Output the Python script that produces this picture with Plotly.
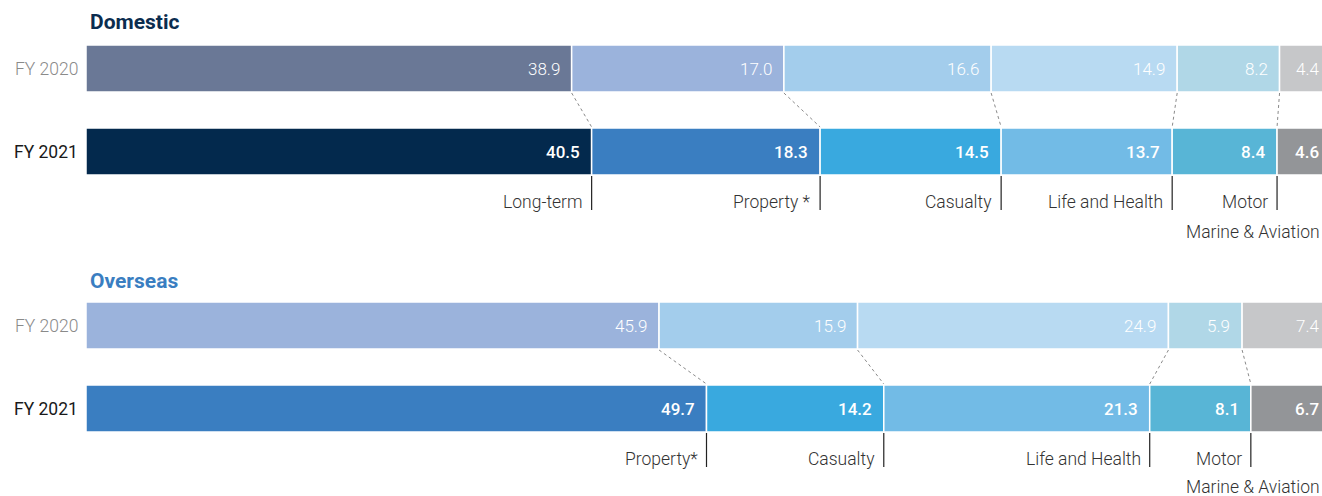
import plotly.graph_objects as go
import numpy as np

# ---- data ----
dom_categories = ["Long-term", "Property *", "Casualty", "Life and Health", "Motor", "Marine & Aviation"]
dom_fy2020 = [38.9, 17.0, 16.6, 14.9, 8.2, 4.4]
dom_fy2021 = [40.5, 18.3, 14.5, 13.7, 8.4, 4.6]

ovs_categories = ["Property*", "Casualty", "Life and Health", "Motor", "Marine & Aviation"]
ovs_fy2020 = [45.9, 15.9, 24.9, 5.9, 7.4]
ovs_fy2021 = [49.7, 14.2, 21.3, 8.1, 6.7]

row_labels = ["FY 2020", "FY 2021"]
panel_titles = ["Domestic", "Overseas"]

# ---- styles ----
c20 = {"Long-term": "#6A7896", "Property": "#9BB3DC", "Casualty": "#A3CDEC",
       "Life and Health": "#B8DAF2", "Motor": "#B0D7E7", "Marine & Aviation": "#C6C7C9"}
c21 = {"Long-term": "#03294D", "Property": "#3A7EC1", "Casualty": "#39A9DF",
       "Life and Health": "#72BBE6", "Motor": "#58B5D6", "Marine & Aviation": "#939598"}
title_colors = ["#0B2D4F", "#3A7EC1"]

FONT = "Roboto"
W, H = 1322, 496
BAR_H = 47
X_MAX = 99.0
panels = [
    dict(cats=dom_categories, v20=dom_fy2020, v21=dom_fy2021, title_y=22, y20=68.5, y21=151.5,
         lab_y=202, marine_y=232),
    dict(cats=ovs_categories, v20=ovs_fy2020, v21=ovs_fy2021, title_y=281, y20=325.5, y21=408.5,
         lab_y=459, marine_y=487),
]

def key(c):
    return c.replace(" *", "").replace("*", "")

fig = go.Figure()
ann = []
shapes = []

for pi, p in enumerate(panels):
    cats, v20, v21 = p["cats"], p["v20"], p["v21"]
    cum20 = np.cumsum(v20)
    cum21 = np.cumsum(v21)
    for vals, cum, yc, cols, bold in [(v20, cum20, p["y20"], c20, False), (v21, cum21, p["y21"], c21, True)]:
        for i, c in enumerate(cats):
            base = cum[i] - vals[i]
            fig.add_trace(go.Bar(
                orientation="h", x=[vals[i]], y=[yc], base=[base], width=BAR_H,
                marker=dict(color=cols[key(c)], line=dict(color="white", width=1.5)),
                hoverinfo="skip", showlegend=False))
            font = dict(family=FONT, size=17, color="white", weight=500 if bold else 300)
            if cum[i] <= X_MAX:
                ann.append(dict(x=cum[i], y=yc, xref="x", yref="y", text=f"{vals[i]:.1f}",
                                showarrow=False, xanchor="right", yanchor="middle", xshift=-10,
                                font=font))
            else:
                # segment runs past the visible edge: pin its label to the edge
                ann.append(dict(x=1, y=yc, xref="paper", yref="y", text=f"{vals[i]:.1f}",
                                showarrow=False, xanchor="right", yanchor="middle", xshift=-1,
                                font=font))
    # connectors between FY2020 and FY2021 boundaries
    top = p["y20"] + BAR_H / 2
    bot = p["y21"] - BAR_H / 2
    for i in range(len(cats) - 1):
        fig.add_trace(go.Scatter(x=[cum20[i], cum21[i]], y=[top + 1, bot - 1], mode="lines",
                                 line=dict(color="#8a8a8a", width=1, dash="dot"),
                                 hoverinfo="skip", showlegend=False))
    # category labels with tick lines
    tick_top = p["y21"] + BAR_H / 2 + 1
    for i, c in enumerate(cats[:-1]):
        shapes.append(dict(type="line", xref="x", yref="y", x0=cum21[i], x1=cum21[i],
                           y0=tick_top, y1=tick_top + 34, line=dict(color="#222", width=1.2)))
        ann.append(dict(x=cum21[i], y=p["lab_y"], xref="x", yref="y", text=c, showarrow=False,
                        xanchor="right", yanchor="middle", xshift=-7,
                        font=dict(family=FONT, size=17.5, color="#333", weight=300)))
    ann.append(dict(x=1, y=p["marine_y"], xref="paper", yref="y", text=cats[-1], showarrow=False,
                    xanchor="right", yanchor="middle",
                    font=dict(family=FONT, size=17.5, color="#333", weight=300)))
    # row labels
    ann.append(dict(x=0, y=p["y20"], xref="x", yref="y", text=row_labels[0], showarrow=False,
                    xanchor="right", yanchor="middle", xshift=-6,
                    font=dict(family=FONT, size=17.5, color="#8a8a8a", weight=300)))
    ann.append(dict(x=0, y=p["y21"], xref="x", yref="y", text=row_labels[1], showarrow=False,
                    xanchor="right", yanchor="middle", xshift=-6,
                    font=dict(family=FONT, size=17.5, color="#1a1a1a", weight=400)))
    # panel title
    ann.append(dict(x=0, y=p["title_y"], xref="x", yref="y", text=f"<b>{panel_titles[pi]}</b>",
                    showarrow=False, xanchor="left", yanchor="middle", xshift=2,
                    font=dict(family=FONT, size=21, color=title_colors[pi])))

fig.update_layout(
    width=W, height=H, margin=dict(l=86, r=0, t=0, b=0),
    plot_bgcolor="white", paper_bgcolor="white", barmode="overlay",
    xaxis=dict(range=[0, X_MAX], visible=False, fixedrange=True),
    yaxis=dict(range=[H, 0], visible=False, fixedrange=True),
    annotations=ann, shapes=shapes, showlegend=False,
)
fig.write_html("out.html", config={"displayModeBar": False},
               post_script="document.body.style.margin='0';document.body.style.overflow='hidden';")
